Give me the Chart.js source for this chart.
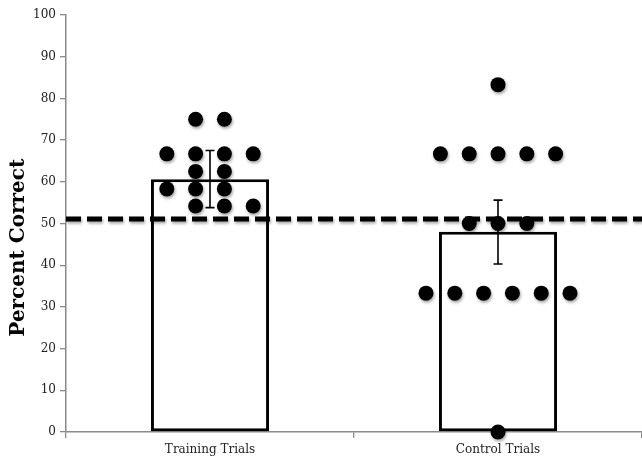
<!DOCTYPE html>
<html>
<head>
<meta charset="utf-8">
<script src="https://cdn.jsdelivr.net/npm/chart.js@4.4.1/dist/chart.umd.min.js"></script>
<style>
  html, body { margin: 0; padding: 0; background: #ffffff; }
  #wrap { width: 642px; height: 462px; position: relative; }
</style>
</head>
<body>
<div id="wrap"><canvas id="chart"></canvas></div>
<script>
// Group means, standard-error limits and the chance line
const categories = ['Training Trials', 'Control Trials'];
const meanScores = [60.6, 48.0];
const errorHigh = [67.5, 55.6];
const errorLow = [53.8, 40.3];
const chanceLevel = 51.1;
const yTicks = [0, 10, 20, 30, 40, 50, 60, 70, 80, 90, 100];

// Individual participant scores; slots give the side-by-side column of each dot
const trainingScores = [75, 75, 66.7, 66.7, 66.7, 66.7, 62.5, 62.5, 58.3, 58.3, 58.3, 54.2, 54.2, 54.2];
const trainingSlots  = [-1, 1, -3, -1, 1, 3, -1, 1, -3, -1, 1, -1, 1, 3];
const controlScores  = [83.3, 66.7, 66.7, 66.7, 66.7, 66.7, 50, 50, 50, 33.3, 33.3, 33.3, 33.3, 33.3, 33.3, 0];
const controlSlots   = [0, -4, -2, 0, 2, 4, -2, 0, 2, -5, -3, -1, 1, 3, 5, 0];

const SLOT_STEP = 0.05; // horizontal spacing of dot columns, in category units

function dotsFor(groupIndex, scores, slots) {
  return scores.map((v, i) => ({ x: groupIndex + 0.5 + slots[i] * SLOT_STEP, y: v }));
}
const individualDots = dotsFor(0, trainingScores, trainingSlots)
  .concat(dotsFor(1, controlScores, controlSlots));

const SERIF = '"DejaVu Serif", "Liberation Serif", serif';

// Soft drop shadow under the dots and the dashed chance line
const shadowPlugin = {
  id: 'softShadow',
  beforeDatasetDraw(chart, args) {
    const ds = chart.data.datasets[args.index];
    if (!ds.shadow) return;
    const ctx = chart.ctx;
    ctx.save();
    ctx.shadowColor = 'rgba(0,0,0,0.35)';
    ctx.shadowBlur = 3;
    ctx.shadowOffsetX = 1;
    ctx.shadowOffsetY = 2;
  },
  afterDatasetDraw(chart, args) {
    const ds = chart.data.datasets[args.index];
    if (!ds.shadow) return;
    chart.ctx.restore();
  }
};

// Error bars drawn from errorLow / errorHigh at each category centre
const errorBarPlugin = {
  id: 'errorBars',
  afterDatasetsDraw(chart) {
    const ctx = chart.ctx;
    const xs = chart.scales.x;
    const ys = chart.scales.y;
    ctx.save();
    ctx.strokeStyle = '#000';
    ctx.lineWidth = 1.6;
    categories.forEach((c, i) => {
      const x = xs.getPixelForValue(i);
      const yT = ys.getPixelForValue(errorHigh[i]);
      const yB = ys.getPixelForValue(errorLow[i]);
      const cap = 4.5;
      ctx.beginPath();
      ctx.moveTo(x, yT); ctx.lineTo(x, yB);
      ctx.moveTo(x - cap, yT); ctx.lineTo(x + cap, yT);
      ctx.moveTo(x - cap, yB); ctx.lineTo(x + cap, yB);
      ctx.stroke();
    });
    ctx.restore();
  }
};

// Rotated y-axis title
const yTitlePlugin = {
  id: 'yTitle',
  afterDraw(chart) {
    const ctx = chart.ctx;
    const area = chart.chartArea;
    ctx.save();
    ctx.translate(19, area.top + area.height * 0.558);
    ctx.rotate(-Math.PI / 2);
    ctx.font = 'bold 20px ' + SERIF;
    ctx.fillStyle = '#000';
    ctx.textAlign = 'center';
    ctx.textBaseline = 'middle';
    ctx.fillText('Percent Correct', 0, 0);
    ctx.restore();
  }
};

new Chart(document.getElementById('chart'), {
  type: 'bar',
  data: {
    labels: categories,
    datasets: [
      {
        type: 'bar',
        label: 'Mean',
        data: meanScores,
        backgroundColor: '#ffffff',
        borderColor: '#000000',
        borderWidth: 3,
        borderSkipped: false,
        grouped: false,
        barPercentage: 0.41,
        categoryPercentage: 1.0,
        order: 4
      },
      {
        type: 'line',
        label: 'Chance',
        xAxisID: 'xd',
        data: [{ x: 0, y: chanceLevel }, { x: 2, y: chanceLevel }],
        borderColor: '#000000',
        borderWidth: 5,
        borderDash: [15, 6],
        pointRadius: 0,
        fill: false,
        shadow: true,
        clip: false,
        order: 3
      },
      {
        type: 'scatter',
        label: 'Participants',
        xAxisID: 'xd',
        data: individualDots,
        backgroundColor: '#000000',
        borderColor: '#000000',
        pointRadius: 7.5,
        pointHoverRadius: 7.5,
        borderWidth: 0,
        shadow: true,
        clip: false,
        order: 2
      }
    ]
  },
  options: {
    responsive: true,
    maintainAspectRatio: false,
    animation: false,
    events: [],
    layout: { autoPadding: false, padding: { top: 15, right: -3, bottom: 0, left: 0 } },
    plugins: {
      legend: { display: false },
      tooltip: { enabled: false }
    },
    scales: {
      x: {
        type: 'category',
        offset: true,
        grid: {
          offset: true,
          drawOnChartArea: false,
          drawTicks: true,
          tickLength: 6,
          color: '#8a8a8a',
          lineWidth: 1.3
        },
        border: { color: '#8a8a8a', width: 1.5 },
        ticks: {
          font: { family: SERIF, size: 12 },
          color: '#222',
          padding: 5
        },
        afterFit(scale) {
          scale.height = 30;
          scale.paddingLeft = 0;
          scale.paddingRight = 0;
        }
      },
      xd: {
        type: 'linear',
        min: 0,
        max: 2,
        offset: false,
        display: false
      },
      y: {
        min: 0,
        max: 100,
        afterBuildTicks(scale) { scale.ticks = yTicks.map(v => ({ value: v })); },
        grid: {
          drawOnChartArea: false,
          drawTicks: true,
          tickLength: 6,
          color: '#8a8a8a',
          lineWidth: 1.3
        },
        border: { color: '#8a8a8a', width: 1.5 },
        ticks: {
          font: { family: SERIF, size: 12 },
          color: '#222',
          padding: 4
        },
        afterFit(scale) { scale.width = 66; }
      }
    }
  },
  plugins: [shadowPlugin, errorBarPlugin, yTitlePlugin]
});
</script>
</body>
</html>
